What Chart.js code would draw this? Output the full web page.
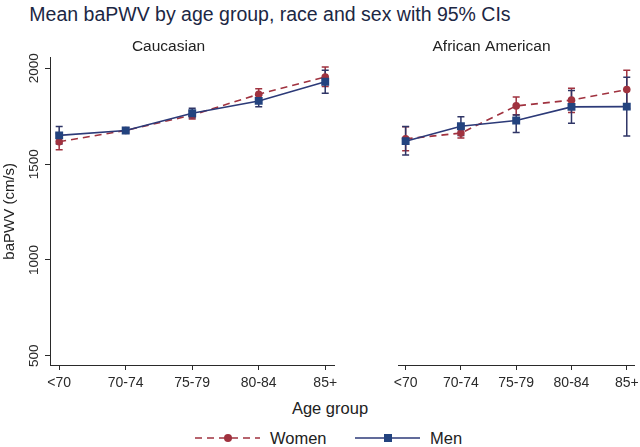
<!DOCTYPE html>
<html><head><meta charset="utf-8">
<script src="https://cdn.jsdelivr.net/npm/chart.js@4/dist/chart.umd.min.js"></script>
<style>
html,body{margin:0;padding:0;background:#fff;width:640px;height:447px;overflow:hidden;font-family:"Liberation Sans",Arial,sans-serif;}
#title{position:absolute;left:0;top:2px;width:540px;text-align:center;font-size:19.5px;line-height:24px;color:#1c2744;white-space:nowrap;}
.c{position:absolute;}
#xtitle{position:absolute;left:0;width:660px;top:398px;text-align:center;font-size:16.5px;line-height:20px;color:#222;}
#legend{position:absolute;top:428px;left:0;width:640px;height:20px;font-size:16.5px;color:#222;}
#legend span{position:absolute;top:0;line-height:20px;}
#legend svg{position:absolute;top:0;}
</style></head><body>
<div id="title">Mean baPWV by age group, race and sex with 95% CIs</div>
<div class="c" style="left:0;top:37px;width:340px;height:358px"><canvas id="c1"></canvas></div>
<div class="c" style="left:340px;top:37px;width:300px;height:358px"><canvas id="c2"></canvas></div>
<div id="xtitle">Age group</div>
<div id="legend">
  <svg style="left:193px" width="70" height="20"><line x1="2" y1="10" x2="67" y2="10" stroke="#a0323f" stroke-width="1.6" stroke-dasharray="7,5"/><circle cx="35" cy="10" r="4" fill="#a0323f"/></svg>
  <span style="left:270px">Women</span>
  <svg style="left:353px" width="70" height="20"><line x1="2" y1="10" x2="67" y2="10" stroke="#2c3a78" stroke-width="1.6"/><rect x="31" y="6" width="8" height="8" fill="#23437f"/></svg>
  <span style="left:430px">Men</span>
</div>
<script>
const categories = ['<70','70-74','75-79','80-84','85+'];
const yTicks = [500,1000,1500,2000];
const panelTitles = ['Caucasian','African American'];

const cauWomen   = [1617,1676,1756,1865,1955];
const cauWomenLo = [1575,1662,1735,1835,1905];
const cauWomenHi = [1660,1690,1777,1894,2007];
const cauMen     = [1650,1676,1766,1830,1930];
const cauMenLo   = [1605,1662,1742,1799,1870];
const cauMenHi   = [1696,1690,1792,1860,1990];

const aaWomen    = [1632,1662,1804,1834,1889];
const aaWomenLo  = [1570,1636,1758,1770,1790];
const aaWomenHi  = [1695,1690,1851,1896,1990];
const aaMen      = [1620,1698,1728,1799,1800];
const aaMenLo    = [1548,1650,1665,1714,1647];
const aaMenHi    = [1696,1748,1756,1884,1953];

Chart.defaults.font.family = '"Liberation Sans", Arial, sans-serif';
const WOMEN = '#a0323f', MEN_LINE = '#2c3a78', MEN_PT = '#23437f', MEN_CI = '#2f3566';
const AX = '#2a2a2a';

function pts(v){ return v.map((y,i)=>({x:i,y:y})); }
function datasets(w,wl,wh,m,ml,mh){
  return [
    {label:'Men', data:pts(m), ciLo:ml, ciHi:mh, ciColor:MEN_CI, order:0,
     borderColor:MEN_LINE, backgroundColor:MEN_PT, borderWidth:1.6,
     pointStyle:'rect', pointRadius:5.6, pointBorderWidth:0, pointBackgroundColor:MEN_PT},
    {label:'Women', data:pts(w), ciLo:wl, ciHi:wh, ciColor:WOMEN, order:1,
     borderColor:WOMEN, backgroundColor:WOMEN, borderWidth:1.6, borderDash:[7,5],
     pointStyle:'circle', pointRadius:3.8, pointBorderWidth:0, pointBackgroundColor:WOMEN}
  ];
}

const errorBars = {
  id:'errorBars',
  beforeDatasetsDraw(chart){
    const ctx = chart.ctx, xs = chart.scales.x, ys = chart.scales.y;
    ctx.save();
    ctx.lineWidth = 1.5;
    chart.data.datasets.slice().reverse().forEach(ds=>{
      ctx.strokeStyle = ds.ciColor;
      ds.data.forEach((p,i)=>{
        const px = xs.getPixelForValue(p.x);
        const yl = ys.getPixelForValue(ds.ciLo[i]);
        const yh = ys.getPixelForValue(ds.ciHi[i]);
        ctx.beginPath();
        ctx.moveTo(px,yl); ctx.lineTo(px,yh);
        ctx.moveTo(px-3.5,yl); ctx.lineTo(px+3.5,yl);
        ctx.moveTo(px-3.5,yh); ctx.lineTo(px+3.5,yh);
        ctx.stroke();
      });
    });
    ctx.restore();
  }
};

const rotYTicks = {
  id:'rotYTicks',
  afterDraw(chart){
    const ys = chart.scales.y;
    if (!ys.options.display) return;
    const ctx = chart.ctx;
    ctx.save();
    ctx.font = '13.5px "Liberation Sans", Arial, sans-serif';
    ctx.fillStyle = AX;
    ctx.textAlign = 'center';
    ctx.textBaseline = 'middle';
    yTicks.forEach(v=>{
      const py = ys.getPixelForValue(v);
      ctx.save();
      ctx.translate(ys.right - 16, py);
      ctx.rotate(-Math.PI/2);
      ctx.fillText(String(v),0,0);
      ctx.restore();
    });
    ctx.restore();
  }
};

function makeChart(id, title, dsets, showY){
  return new Chart(document.getElementById(id), {
    type:'line',
    data:{datasets:dsets},
    plugins:[errorBars, rotYTicks],
    options:{
      responsive:true, maintainAspectRatio:false, animation:false, devicePixelRatio:1,
      layout:{padding: showY ? {left:0,right:3,top:0,bottom:0} : {left:8,right:5,top:0,bottom:0}},
      plugins:{
        legend:{display:false}, tooltip:{enabled:false},
        title:{display:true, text:title, color:'#222', font:{size:15.5, weight:'normal'}, padding:{top:0,bottom:2}}
      },
      scales:{
        x:{type:'linear', min:-0.138, max:4.138,
           afterBuildTicks:s=>{ s.ticks = categories.map((c,i)=>({value:i})); },
           afterFit:s=>{ s.height = 30; s.paddingLeft = 0; s.paddingRight = 0; },
           ticks:{callback:v=>categories[v], color:AX, font:{size:14}, padding:5, maxRotation:0, minRotation:0, autoSkip:false},
           grid:{drawOnChartArea:false, drawTicks:true, tickLength:5, color:AX, lineWidth:1},
           border:{display:true, color:AX, width:1}},
        y:{type:'linear', min:452, max:2056, display:showY,
           afterBuildTicks:s=>{ s.ticks = yTicks.map(v=>({value:v})); },
           afterFit:s=>{ s.width = 50; s.paddingTop = 0; s.paddingBottom = 0; },
           ticks:{display:false},
           grid:{drawOnChartArea:false, drawTicks:true, tickLength:5, color:AX, lineWidth:1},
           border:{display:true, color:AX, width:1},
           title:{display:true, text:'baPWV (cm/s)', color:'#222', font:{size:15}, padding:{top:1,bottom:0}}}
      }
    }
  });
}

makeChart('c1', panelTitles[0], datasets(cauWomen,cauWomenLo,cauWomenHi,cauMen,cauMenLo,cauMenHi), true);
makeChart('c2', panelTitles[1], datasets(aaWomen,aaWomenLo,aaWomenHi,aaMen,aaMenLo,aaMenHi), false);
</script>
</body></html>
